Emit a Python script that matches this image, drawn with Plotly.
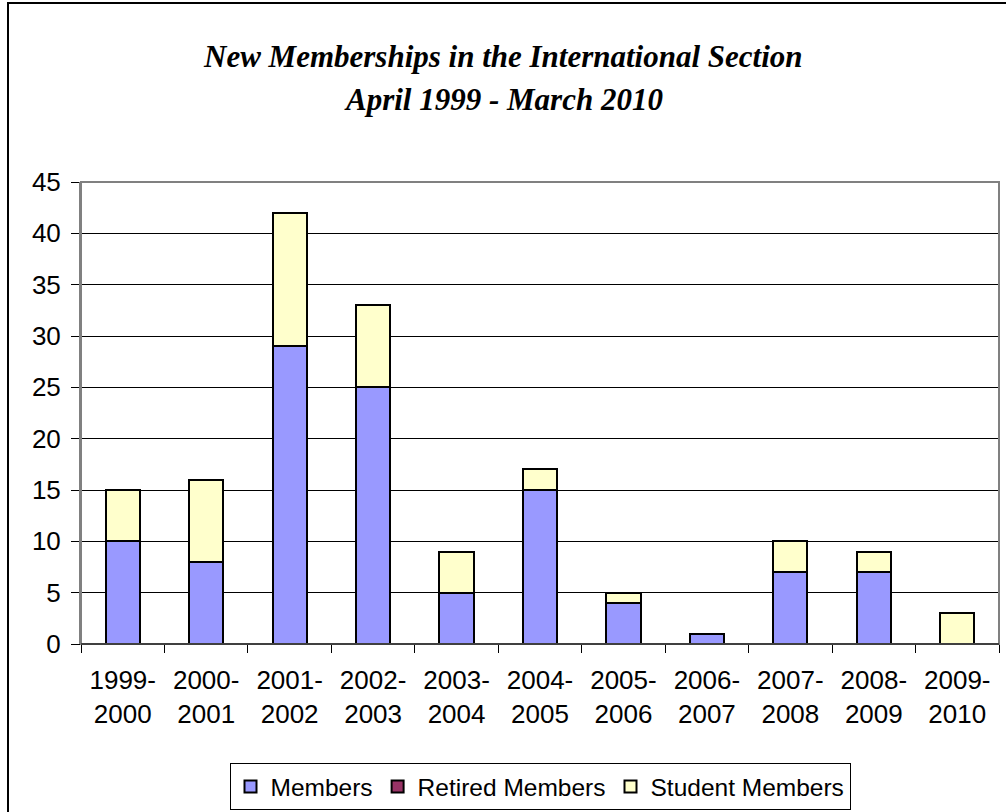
import plotly.graph_objects as go

categories = ["1999-<br>2000", "2000-<br>2001", "2001-<br>2002", "2002-<br>2003", "2003-<br>2004",
              "2004-<br>2005", "2005-<br>2006", "2006-<br>2007", "2007-<br>2008", "2008-<br>2009",
              "2009-<br>2010"]
members = [10, 8, 29, 25, 5, 15, 4, 1, 7, 7, 0]
retired = [0, 0, 0, 0, 0, 0, 0, 0, 0, 0, 0]
students = [5, 8, 13, 8, 4, 2, 1, 0, 3, 2, 3]
title_lines = ["New Memberships in the International Section", "April 1999 - March 2010"]

series = [
    ("Members", members, "#9999FF"),
    ("Retired Members", retired, "#993366"),
    ("Student Members", students, "#FFFFCC"),
]

fig = go.Figure()
for name, vals, color in series:
    fig.add_trace(go.Bar(
        x=categories, y=vals, name=name,
        marker=dict(color=color, line=dict(color="black", width=2)),
    ))

L, R, T, B = 81, 7, 182, 168
W, H = 1006, 812
pw, ph = W - L - R, H - T - B

def px_x(x):
    return (x - L) / pw

def px_y(y):
    return (H - B - y) / ph

title_font = dict(family="Liberation Serif, Times New Roman, serif", size=31, color="black")
annotations = []
for line, ypix in zip(title_lines, [57, 100]):
    annotations.append(dict(
        text="<b><i>%s</i></b>" % line, xref="paper", yref="paper",
        x=px_x(503), y=px_y(ypix), xanchor="center", yanchor="middle",
        showarrow=False, font=title_font,
    ))

fig.update_layout(
    width=W, height=H,
    barmode="stack", bargap=0.59,
    paper_bgcolor="white", plot_bgcolor="white",
    margin=dict(l=L, r=R, t=T, b=B, autoexpand=False),
    font=dict(family="Liberation Sans, Arial, sans-serif", size=24, color="black"),
    showlegend=True,
    legend=dict(
        orientation="h", x=px_x(540), xanchor="center", y=px_y(763), yanchor="top",
        bordercolor="black", borderwidth=1, bgcolor="white",
        font=dict(size=24.5), traceorder="normal",
    ),
    xaxis=dict(
        showline=True, linecolor="black", linewidth=1,
        ticks="outside", tickson="boundaries", ticklen=8, tickcolor="black",
        showgrid=False, tickfont=dict(size=26), ticklabelstandoff=13,
    ),
    yaxis=dict(
        range=[0, 45], dtick=5, showline=True, linecolor="#808080", linewidth=2,
        ticks="outside", ticklen=8, tickcolor="black",
        showgrid=True, gridcolor="black", gridwidth=1,
        tickfont=dict(size=26), zeroline=False, ticklabelstandoff=5,
    ),
    annotations=annotations,
    shapes=[
        dict(type="rect", xref="paper", yref="paper", x0=0, x1=1, y0=0, y1=1,
             line=dict(color="#808080", width=2), layer="above"),
        dict(type="line", xref="paper", yref="paper", x0=0, x1=1, y0=0, y1=0,
             line=dict(color="black", width=1), layer="above"),
        dict(type="rect", xref="paper", yref="paper",
             x0=px_x(8), x1=px_x(1020), y0=px_y(830), y1=px_y(3),
             line=dict(color="black", width=2)),
    ],
)

fig.write_html("out.html", config={"displayModeBar": False},
               post_script="document.body.style.margin='0';")
